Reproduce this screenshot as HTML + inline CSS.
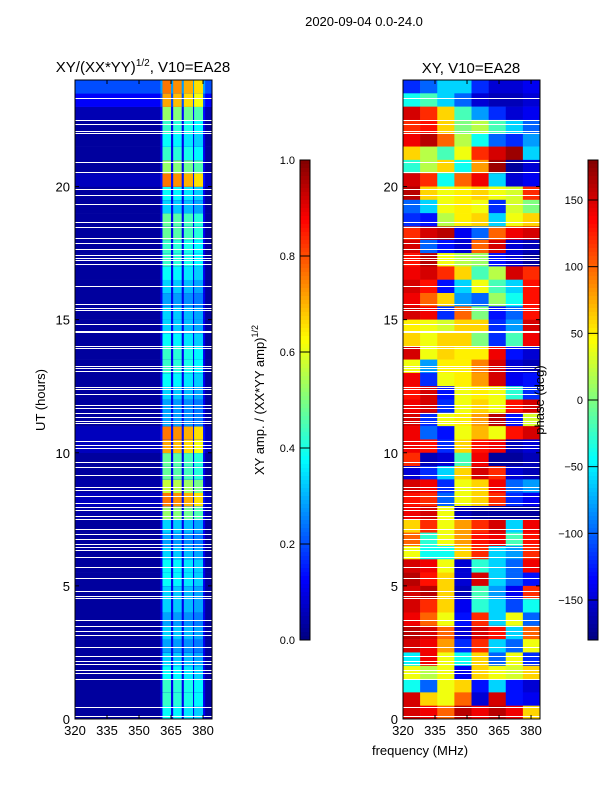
<!DOCTYPE html>
<html><head><meta charset="utf-8"><style>
html,body{margin:0;padding:0;background:#fff;}
svg text{font-family:"Liberation Sans","DejaVu Sans",sans-serif;fill:#000;}
</style></head><body>
<svg id="fig" width="600" height="800" viewBox="0 0 600 800" xmlns="http://www.w3.org/2000/svg">
<text x="364" y="26" font-size="13" text-anchor="middle">2020-09-04 0.0-24.0</text>
<text x="143" y="72" font-size="15" text-anchor="middle">XY/(XX*YY)<tspan font-size="10" dy="-6">1/2</tspan><tspan dy="6">, V10=EA28</tspan></text>
<text x="471" y="73" font-size="15" text-anchor="middle">XY, V10=EA28</text>
<text transform="translate(45,400) rotate(-90)" font-size="13" text-anchor="middle">UT (hours)</text>
<text x="420" y="755" font-size="13" text-anchor="middle">frequency (MHz)</text>
<text transform="translate(264,400) rotate(-90)" font-size="13" text-anchor="middle">XY amp. / (XX*YY amp)<tspan font-size="9" dy="-6">1/2</tspan></text>
<g id="left"></g>
<g id="right"></g>
<g id="axes"></g>
<text transform="translate(544,400) rotate(-90)" font-size="13" text-anchor="middle">phase (deg)</text>
</svg>
<script>
// ---- data ----
const ampRows = [0.4,0.45,0.45,0.4,0.35,0.3,0.35,0.3,0.35,0.35,0.4,0.4,0.35,0.3,0.35,0.55,0.8,0.6,0.5,0.5,0.75,0.8,0.3,0.3,0.35,0.4,0.45,0.45,0.4,0.35,0.35,0.3,0.35,0.4,0.45,0.45,0.5,0.5,0.35,0.4,0.8,0.55,0.45,0.4,0.45,0.55,0.75,0.8];
const bgRows = [0.03,0.03,0.03,0.03,0.03,0.03,0.03,0.03,0.03,0.03,0.03,0.03,0.03,0.03,0.03,0.04,0.06,0.04,0.03,0.03,0.06,0.06,0.03,0.03,0.03,0.03,0.03,0.03,0.03,0.03,0.03,0.03,0.03,0.03,0.03,0.03,0.03,0.03,0.03,0.03,0.06,0.03,0.03,0.03,0.03,0.05,0.12,0.2];
const bands = [[361,365],[366,370],[371,375.3],[375.8,380]];
const bandScale = [0.95,0.92,0.88,0.82];
const phaseRowsTopDown = [
[-120,-100,-60,-60,-120,-150,-150,-140],
[-40,-20,-60,-100,-150,-160,-160,-150],
[150,120,60,-20,-80,-120,-150,-140],
[120,130,60,0,20,-20,-60,-100],
[140,160,100,20,-40,-100,-120,-80],
[60,20,-20,40,120,150,170,-60],
[-30,20,60,-40,80,170,-170,-150],
[150,120,-40,100,140,-60,-150,-140],
[160,60,40,50,60,40,30,120],
[-100,-60,40,50,40,-120,30,0],
[-120,-130,20,50,60,-60,40,60],
[120,150,160,-140,-100,100,140,150],
[150,-100,-130,-150,100,150,-150,-160],
[130,160,40,20,10,-130,-150,-170],
[140,150,120,60,-20,20,150,120],
[150,130,-130,-60,40,-20,-60,130],
[140,100,60,-80,-100,10,-40,130],
[150,140,-120,100,0,-130,-100,130],
[50,40,30,60,60,-120,-80,150],
[60,40,60,60,0,-120,-20,140],
[150,40,60,50,50,140,-130,-150],
[40,-80,50,50,90,150,-150,-160],
[140,-120,40,50,80,150,-140,-130],
[130,150,-130,40,50,40,-30,-120],
[140,150,-120,40,60,40,130,150],
[150,-120,40,50,80,160,-130,30],
[140,-100,-130,40,70,40,130,150],
[140,130,-120,60,130,140,-160,-150],
[120,-160,-150,-20,140,-170,-170,-160],
[-150,-120,-60,60,150,120,-150,-160],
[150,140,-120,40,60,140,-100,-80],
[130,120,-100,40,60,120,-120,-140],
[140,150,40,-160,-170,-170,-170,-170],
[60,120,40,80,120,150,-60,140],
[100,-30,40,80,130,140,-20,130],
[40,-40,-40,60,120,-60,-80,120],
[150,140,40,-150,-30,-60,-100,140],
[160,130,60,-150,150,-60,-100,-130],
[150,160,60,-160,-20,-80,-140,120],
[150,120,60,-140,-30,-60,-110,-40],
[140,100,40,-130,120,-60,40,-100],
[160,150,100,-150,150,130,-60,100],
[150,140,80,-120,120,-60,-100,40],
[-50,140,40,-40,60,-100,40,-120],
[40,20,40,-140,60,40,30,60],
[-40,-100,40,60,-130,-60,-130,-150],
[150,60,40,100,-150,150,-130,-140],
[150,140,100,160,140,160,140,60]];
const gapHours = [23.32,22.5,22.35,22.08,22.01,20.92,20.54,19.91,19.68,19.34,18.67,18.48,18.07,17.88,17.65,17.43,17.31,17.24,17.09,16.26,15.59,15.44,15.36,14.84,14.57,14.53,14.01,13.93,13.26,13.18,13.07,12.47,12.39,12.21,11.79,11.68,11.49,11.34,11.19,11.12,10.44,10.29,10.18,9.65,9.46,9.16,8.71,8.6,8.38,8.11,7.96,7.85,7.62,7.51,7.14,6.95,6.76,6.57,6.46,6.35,6.08,5.71,5.3,4.81,4.62,4.54,3.72,3.49,3.31,3.15,2.7,2.37,2.18,2.07,1.84,1.73,1.5,0.45,0.11];
const xTicks = [320,335,350,365,380];
const yTicks = [0,5,10,15,20];
const ampTicks = [0,0.2,0.4,0.6,0.8,1.0];
const phaseTicks = [-150,-100,-50,0,50,100,150];
const fMin=320, fMax=384.2, hMin=0, hMax=24;

// ---- helpers ----
const NS='http://www.w3.org/2000/svg';
function jet(v){v=Math.max(0,Math.min(1,v));
 const r=Math.max(0,Math.min(1,1.5-Math.abs(4*v-3))),g=Math.max(0,Math.min(1,1.5-Math.abs(4*v-2))),b=Math.max(0,Math.min(1,1.5-Math.abs(4*v-1)));
 return 'rgb('+Math.round(r*255)+','+Math.round(g*255)+','+Math.round(b*255)+')';}
function mk(tag,attrs,parent){const e=document.createElementNS(NS,tag);for(const k in attrs)e.setAttribute(k,attrs[k]);parent.appendChild(e);return e;}
const panels={L:{x0:75,x1:212},R:{x0:403,x1:540}};
const Y0=719,Y1=80;
function yS(h){return Y0-(h-hMin)/(hMax-hMin)*(Y0-Y1);}
function xS(p,f){return p.x0+(f-fMin)/(fMax-fMin)*(p.x1-p.x0);}
const L=document.getElementById('left'),R=document.getElementById('right'),A=document.getElementById('axes');

// left heatmap
const nR=ampRows.length, dh=24/nR;
for(let i=0;i<nR;i++){
 const yt=yS((i+1)*dh), yb=yS(i*dh);
 let e=mk('rect',{x:panels.L.x0,y:yt,width:panels.L.x1-panels.L.x0,height:yb-yt+0.3,fill:jet(bgRows[i])},L);
 
 
 mk('rect',{x:xS(panels.L,360),y:yt,width:xS(panels.L,381)-xS(panels.L,360),height:yb-yt+0.3,fill:jet(bgRows[i]+0.08)},L);
 bands.forEach((b,j)=>{
  const c=mk('rect',{x:xS(panels.L,b[0]),y:yt,width:xS(panels.L,b[1])-xS(panels.L,b[0]),height:yb-yt+0.3,fill:jet(ampRows[i]*bandScale[j])},L);
  
  
 });
}
// right heatmap
const nP=phaseRowsTopDown.length, dp=24/nP, nC=phaseRowsTopDown[0].length, df=(fMax-fMin)/nC;
phaseRowsTopDown.forEach((row,ri)=>{
 const hi=nP-1-ri; const yt=yS((hi+1)*dp), yb=yS(hi*dp);
 row.forEach((v,ci)=>{
  const xa=xS(panels.R,fMin+ci*df), xb=xS(panels.R,fMin+(ci+1)*df);
  const c=mk('rect',{x:xa,y:yt,width:xb-xa+0.3,height:yb-yt+0.3,fill:jet((v+180)/360)},R);
  
  
 });
});
// gaps
gapHours.forEach(h=>{
 [panels.L,panels.R].forEach(p=>{
  const g=mk('rect',{x:p.x0,y:Math.round(yS(h)),width:p.x1-p.x0,height:1,fill:'#fff','shape-rendering':'crispEdges'},A);
  
  
 });
});
// frames, ticks
[panels.L,panels.R].forEach((p,pi)=>{
 const f=mk('rect',{x:p.x0,y:Y1,width:p.x1-p.x0,height:Y0-Y1,fill:'none',stroke:'#000','stroke-width':1},A);
 
 
 xTicks.forEach(t=>{const x=xS(p,t);
  mk('line',{x1:x,x2:x,y1:Y0,y2:Y0-4,stroke:'#000'},A);mk('line',{x1:x,x2:x,y1:Y1,y2:Y1+4,stroke:'#000'},A);
  const tx=mk('text',{x:x,y:Y0+16,'font-size':13,'text-anchor':'middle'},A);tx.textContent=t;
  
  
 });
 yTicks.forEach(t=>{const y=yS(t);
  mk('line',{x1:p.x0,x2:p.x0+4,y1:y,y2:y,stroke:'#000'},A);mk('line',{x1:p.x1,x2:p.x1-4,y1:y,y2:y,stroke:'#000'},A);
  const tx=mk('text',{x:p.x0-5,y:y+5,'font-size':13,'text-anchor':'end'},A);tx.textContent=t;
  
  
 });
});
// colorbars
function cbar(x,vmin,vmax,ticks,fmt,name){
 const top=160,bot=640,n=120;
 for(let i=0;i<n;i++){const y=top+(bot-top)*i/n;
  mk('rect',{x:x,y:y,width:10,height:(bot-top)/n+0.5,fill:jet(1-(i+0.5)/n)},A);}
 const fr=mk('rect',{x:x,y:top,width:10,height:bot-top,fill:'none',stroke:'#000'},A);
 
 
 ticks.forEach(t=>{const y=bot-(t-vmin)/(vmax-vmin)*(bot-top);
  mk('line',{x1:x,x2:x+10,y1:y,y2:y,stroke:'#000'},A);
  const tx=mk('text',{x:x-5,y:y+4,'font-size':11,'text-anchor':'end'},A);tx.textContent=fmt(t);
  
  
 });
}
cbar(300,0,1,ampTicks,t=>t.toFixed(1),'amp-colorbar');
cbar(588,-180,180,phaseTicks,t=>t<0?'\u2212'+(-t):String(t),'phase-colorbar');
</script>
</body></html>
